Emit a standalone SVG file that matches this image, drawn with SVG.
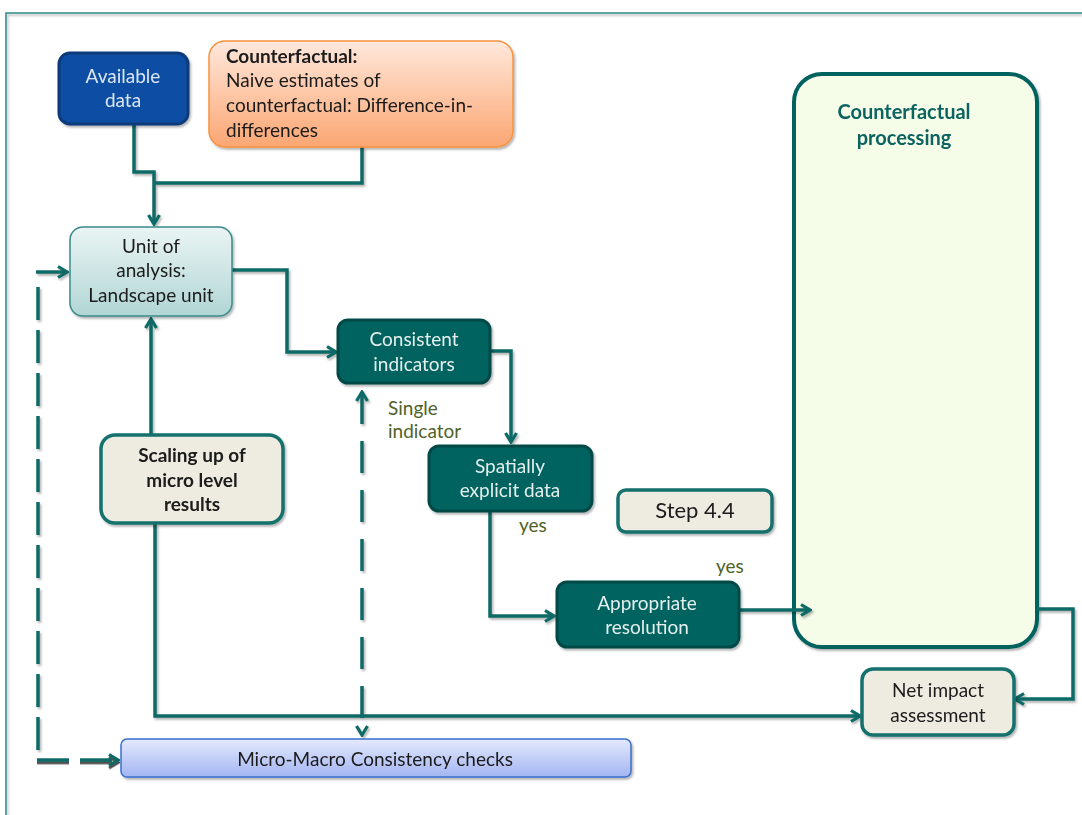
<svg xmlns="http://www.w3.org/2000/svg" width="1082" height="815" viewBox="0 0 1082 815">
  <style>
    text { font-family: Lato, "Liberation Sans", sans-serif; font-size: 19px; }
    .c { text-anchor: middle; }
    .b { font-weight: bold; }
    .dark { fill: #1a1a1a; }
    .light { fill: #e4efee; }
    .lbl { fill: #4f6228; }
    .teal-box { fill: #03635f; stroke: #024a47; stroke-width: 3; }
    .cream-box { fill: #eeece1; stroke: #13706c; stroke-width: 3.5; }
    .wire { fill: none; stroke: #0b6a66; stroke-width: 3.5; stroke-linejoin: miter; }
  </style>
  <defs>
    <linearGradient id="gOrange" x1="0" y1="0" x2="0" y2="1">
      <stop offset="0" stop-color="#ffe8dc"/>
      <stop offset="1" stop-color="#fba672"/>
    </linearGradient>
    <linearGradient id="gUnit" x1="0" y1="0" x2="0" y2="1">
      <stop offset="0" stop-color="#eaf4f4"/>
      <stop offset="1" stop-color="#b1d6d5"/>
    </linearGradient>
    <linearGradient id="gBlue" x1="0" y1="0" x2="0" y2="1">
      <stop offset="0" stop-color="#e4e9fc"/>
      <stop offset="1" stop-color="#a3b5f2"/>
    </linearGradient>
    <filter id="shadow" x="-10%" y="-10%" width="130%" height="130%">
      <feDropShadow dx="1.5" dy="2" stdDeviation="1.2" flood-color="#000" flood-opacity="0.3"/>
    </filter>
    <filter id="darkShadow" filterUnits="userSpaceOnUse" x="0" y="0" width="1082" height="815">
      <feDropShadow dx="0" dy="2.5" stdDeviation="0.6" flood-color="#222" flood-opacity="0.8"/>
    </filter>
    <marker id="arrow" viewBox="0 0 14 14" refX="12" refY="7" markerWidth="14" markerHeight="14" markerUnits="userSpaceOnUse" orient="auto-start-reverse">
      <path d="M3,1.5 L12,7 L3,12.5" fill="none" stroke="#0b6a66" stroke-width="3.2"/>
    </marker>
  </defs>

  <!-- outer frame -->
  <path d="M6,815 V13 H1082" fill="none" stroke="#2e8b86" stroke-width="1.5" filter="url(#shadow)"/>

  <!-- large processing panel sits underneath the connector that enters it -->
  <g id="counterfactual-processing" filter="url(#shadow)">
    <rect x="794" y="74" width="243" height="573" rx="28" fill="#f5fde9" stroke="#05625e" stroke-width="4"/>
    <text class="c b" x="904" y="119" fill="#0b6460" style="font-size:20px">Counterfactual</text>
    <text class="c b" x="904" y="145" fill="#0b6460" style="font-size:20px">processing</text>
  </g>

  <!-- connectors -->
  <g id="connectors" filter="url(#shadow)">
    <path class="wire" d="M134,124 V172 H154 V224" marker-end="url(#arrow)"/>
    <path class="wire" d="M362,147 V183 H154"/>
    <path class="wire" d="M232,270 H287 V352 H336" marker-end="url(#arrow)"/>
    <path class="wire" d="M491,351 H511 V442" marker-end="url(#arrow)"/>
    <path class="wire" d="M490,512 V616 H554" marker-end="url(#arrow)"/>
    <path class="wire" d="M739,610 H810" marker-end="url(#arrow)"/>
    <path class="wire" d="M1037,609 H1073 V699 H1015" marker-end="url(#arrow)"/>
    <path class="wire" d="M151,434 V319" marker-end="url(#arrow)"/>
    <path class="wire" d="M155,524 V716 H860" marker-end="url(#arrow)"/>
    <path class="wire" d="M362,392 V735" stroke-width="3" stroke-dasharray="32 17" marker-start="url(#arrow)" marker-end="url(#arrow)"/>
    <path class="wire" d="M36,272 H67" marker-end="url(#arrow)"/>
    <path class="wire" d="M38,287 V760" stroke-width="4.5" stroke-dasharray="33 10"/>
  </g>
  <g id="connector-shadowed" filter="url(#darkShadow)">
    <path class="wire" d="M37,760 H118" stroke-width="4.5" stroke-dasharray="32 11" marker-end="url(#arrow)"/>
  </g>

  <!-- nodes -->
  <g id="available-data" filter="url(#shadow)">
    <rect x="59" y="53" width="129" height="71" rx="11" fill="#0b4ea4" stroke="#0a3a7a" stroke-width="3"/>
    <text class="c" x="123" y="83" fill="#dce6f4">Available</text>
    <text class="c" x="123" y="107" fill="#dce6f4">data</text>
  </g>

  <g id="counterfactual" filter="url(#shadow)">
    <rect x="209" y="41" width="304" height="106" rx="16" fill="url(#gOrange)" stroke="#f7923f" stroke-width="1.5"/>
    <text class="dark b" x="226" y="63">Counterfactual:</text>
    <text class="dark" x="226" y="87">Naive estimates of</text>
    <text class="dark" x="226" y="112">counterfactual: Difference-in-</text>
    <text class="dark" x="226" y="137">differences</text>
  </g>

  <g id="unit-of-analysis" filter="url(#shadow)">
    <rect x="70" y="227" width="162" height="89" rx="13" fill="url(#gUnit)" stroke="#3a8c8a" stroke-width="1.5"/>
    <text class="c dark" x="151" y="253">Unit of</text>
    <text class="c dark" x="151" y="277">analysis:</text>
    <text class="c dark" x="151" y="302">Landscape unit</text>
  </g>

  <g id="consistent-indicators" filter="url(#shadow)">
    <rect class="teal-box" x="338" y="320" width="152" height="63" rx="10"/>
    <text class="c light" x="414" y="346">Consistent</text>
    <text class="c light" x="414" y="371">indicators</text>
  </g>

  <g id="single-indicator-label">
    <text class="lbl" x="388" y="415">Single</text>
    <text class="lbl" x="388" y="438">indicator</text>
  </g>

  <g id="spatially-explicit-data" filter="url(#shadow)">
    <rect class="teal-box" x="429" y="446" width="163" height="65" rx="10"/>
    <text class="c light" x="510" y="473">Spatially</text>
    <text class="c light" x="510" y="497">explicit data</text>
  </g>

  <g id="yes-labels">
    <text class="lbl" x="519" y="532">yes</text>
    <text class="lbl" x="716" y="573">yes</text>
  </g>

  <g id="step-4-4" filter="url(#shadow)">
    <rect class="cream-box" x="618" y="490" width="154" height="42" rx="8"/>
    <text class="c dark" x="695" y="518" style="font-size:22px">Step 4.4</text>
  </g>

  <g id="appropriate-resolution" filter="url(#shadow)">
    <rect class="teal-box" x="557" y="582" width="182" height="65" rx="10"/>
    <text class="c light" x="647" y="610">Appropriate</text>
    <text class="c light" x="647" y="634">resolution</text>
  </g>

  <g id="scaling-up" filter="url(#shadow)">
    <rect class="cream-box" x="101" y="435" width="182" height="88" rx="14"/>
    <text class="c dark b" x="192" y="462">Scaling up of</text>
    <text class="c dark b" x="192" y="487">micro level</text>
    <text class="c dark b" x="192" y="511">results</text>
  </g>

  <g id="net-impact" filter="url(#shadow)">
    <rect class="cream-box" x="862" y="669" width="152" height="66" rx="11"/>
    <text class="c dark" x="938" y="697">Net impact</text>
    <text class="c dark" x="938" y="722">assessment</text>
  </g>

  <g id="micro-macro" filter="url(#shadow)">
    <rect x="121" y="739" width="510" height="38" rx="6" fill="url(#gBlue)" stroke="#3a6fcc" stroke-width="1.5"/>
    <text class="c dark" x="375" y="766">Micro-Macro Consistency checks</text>
  </g>
</svg>
